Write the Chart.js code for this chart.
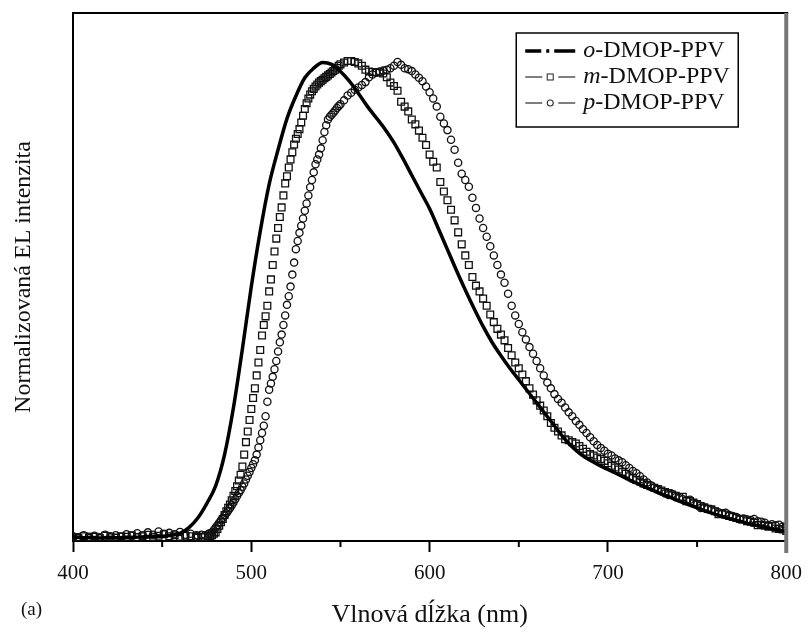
<!DOCTYPE html>
<html>
<head>
<meta charset="utf-8">
<title>EL spektrum DMOP-PPV</title>
<script src="https://cdn.jsdelivr.net/npm/chart.js@4.4.1/dist/chart.umd.min.js"></script>
<style>
  html, body { margin: 0; padding: 0; background: #fff; }
  #wrap { width: 811px; height: 635px; }
</style>
</head>
<body>
<div id="wrap"><canvas id="el-chart"></canvas></div>
<script>
// o-DMOP-PPV (solid line), read every 5 nm
const wavelengthsO = [400,405,410,415,420,425,430,435,440,445,450,455,460,465,470,475,480,485,490,495,
  500,505,510,515,520,525,530,535,540,545,550,555,560,565,570,575,580,585,590,595,
  600,605,610,615,620,625,630,635,640,645,650,655,660,665,670,675,680,685,690,695,
  700,705,710,715,720,725,730,735,740,745,750,755,760,765,770,775,780,785,790,795,800];
const intensityO = [0.008,0.007,0.008,0.006,0.008,0.007,0.008,0.008,0.009,0.010,0.010,0.012,0.016,0.028,0.048,0.078,0.115,0.180,0.278,0.400,
  0.530,0.645,0.743,0.815,0.880,0.927,0.965,0.985,0.997,0.993,0.978,0.958,0.933,0.906,0.882,0.858,0.830,0.797,0.762,0.727,
  0.692,0.650,0.607,0.564,0.523,0.484,0.447,0.414,0.386,0.360,0.336,0.312,0.288,0.264,0.240,0.216,0.196,0.180,0.168,0.158,
  0.149,0.140,0.131,0.122,0.114,0.106,0.098,0.091,0.083,0.076,0.069,0.062,0.056,0.050,0.045,0.040,0.035,0.031,0.027,0.023,0.019];

// m- and p-DMOP-PPV (markers), shared wavelengths
const wavelengthsMP = [400,403,406,409,412,415,418,421,424,427,430,433,436,439,442,445,448,451,454,457,460,463,466,469,
  470,472,474,476,
  477,478,479,480,481,482,483,484,485,486,487,488,489,490,491,492,493,494,495,496,497,498,499,500,
  501,502,503,504,505,506,507,508,509,510,511,512,513,514,515,516,517,518,519,520,521,522,523,524,525,
  526,527,528,529,530,531,532,533,534,535,536,537,538,539,540,541,542,543,544,545,546,547,548,549,550,
  552,554,556,558,560,562,564,566,568,570,572,574,576,578,580,582,584,586,588,590,592,594,596,598,600,
  602,604,606,608,610,612,614,616,618,620,622,624,626,628,630,632,634,636,638,640,642,644,646,648,650,
  652,654,656,658,660,662,664,666,668,670,672,674,676,678,680,682,684,686,688,690,692,694,696,698,700,
  702,704,706,708,710,712,714,716,718,720,722,724,726,728,730,732,734,736,738,740,742,744,746,748,750,
  752,754,756,758,760,762,764,766,768,770,772,774,776,778,780,782,784,786,788,790,792,794,796,798,800];
const intensityM = [0.008,0.006,0.010,0.007,0.009,0.006,0.011,0.008,0.007,0.010,0.009,0.012,0.008,0.010,0.013,0.009,0.011,0.014,0.010,0.012,0.009,0.011,0.010,0.008,
  0.007,0.009,0.008,0.010,
  0.010,0.012,0.015,0.018,0.025,0.032,0.039,0.046,0.054,0.062,0.069,0.076,0.085,0.094,0.104,0.114,0.126,0.138,0.155,0.180,0.206,0.228,0.252,0.275,
  0.298,0.318,0.345,0.372,0.398,0.428,0.450,0.468,0.490,0.520,0.545,0.575,0.603,0.630,0.652,0.675,0.695,0.720,0.745,0.760,0.778,0.795,0.810,0.826,0.838,
  0.848,0.858,0.872,0.886,0.900,0.912,0.922,0.930,0.937,0.942,0.947,0.951,0.955,0.958,0.961,0.964,0.967,0.970,0.973,0.976,0.979,0.982,0.986,0.990,0.993,
  0.997,1.000,1.000,0.998,0.995,0.990,0.982,0.978,0.977,0.976,0.976,0.974,0.966,0.955,0.948,0.938,0.915,0.905,0.895,0.878,0.868,0.855,0.840,0.825,0.805,
  0.790,0.778,0.748,0.728,0.710,0.690,0.668,0.643,0.618,0.595,0.575,0.550,0.532,0.520,0.505,0.490,0.472,0.456,0.442,0.430,0.418,0.402,0.387,0.372,0.360,
  0.347,0.333,0.318,0.305,0.293,0.282,0.272,0.260,0.246,0.236,0.228,0.220,0.212,0.210,0.206,0.203,0.198,0.192,0.186,0.181,0.178,0.174,0.171,0.167,0.162,
  0.157,0.153,0.149,0.144,0.140,0.135,0.131,0.127,0.124,0.120,0.117,0.114,0.111,0.108,0.105,0.102,0.100,0.097,0.094,0.091,0.092,0.083,0.083,0.080,0.077,
  0.073,0.070,0.067,0.066,0.062,0.056,0.057,0.055,0.052,0.050,0.048,0.046,0.046,0.041,0.040,0.038,0.033,0.034,0.032,0.030,0.031,0.026,0.025,0.024,0.021];
const intensityP = [0.010,0.008,0.012,0.009,0.011,0.008,0.013,0.010,0.012,0.009,0.014,0.011,0.016,0.012,0.018,0.013,0.020,0.015,0.017,0.014,0.019,0.013,0.015,0.012,
  0.011,0.013,0.012,0.015,
  0.016,0.018,0.023,0.028,0.033,0.038,0.043,0.048,0.053,0.058,0.063,0.068,0.074,0.080,0.087,0.094,0.100,0.106,0.113,0.120,0.128,0.136,0.144,0.152,
  0.160,0.168,0.180,0.195,0.210,0.225,0.240,0.260,0.290,0.315,0.328,0.342,0.358,0.375,0.395,0.414,0.430,0.450,0.470,0.492,0.510,0.530,0.555,0.580,0.608,
  0.625,0.642,0.657,0.672,0.688,0.703,0.720,0.737,0.752,0.768,0.785,0.795,0.805,0.818,0.835,0.852,0.866,0.878,0.884,0.888,0.892,0.897,0.902,0.906,0.910,
  0.918,0.928,0.934,0.940,0.945,0.950,0.956,0.966,0.972,0.976,0.978,0.980,0.982,0.985,0.990,0.998,0.992,0.985,0.983,0.979,0.972,0.965,0.958,0.947,0.935,
  0.922,0.905,0.884,0.870,0.856,0.836,0.815,0.788,0.765,0.752,0.738,0.715,0.694,0.672,0.652,0.634,0.614,0.595,0.575,0.555,0.538,0.515,0.490,0.470,0.452,
  0.435,0.420,0.404,0.390,0.375,0.360,0.345,0.330,0.318,0.306,0.296,0.288,0.278,0.268,0.260,0.250,0.242,0.233,0.225,0.216,0.208,0.200,0.194,0.188,0.182,
  0.178,0.172,0.168,0.164,0.158,0.152,0.146,0.141,0.135,0.128,0.122,0.116,0.111,0.107,0.103,0.099,0.096,0.098,0.091,0.089,0.087,0.085,0.086,0.079,0.076,
  0.069,0.070,0.067,0.065,0.062,0.060,0.058,0.059,0.054,0.052,0.050,0.045,0.047,0.045,0.044,0.046,0.041,0.040,0.038,0.033,0.035,0.033,0.034,0.030,0.029];

const seriesLabels = ['o-DMOP-PPV', 'm-DMOP-PPV', 'p-DMOP-PPV'];
const xTicks = [400, 500, 600, 700, 800];
const xMinorTicks = [450, 550, 650, 750];

const serif = '"Liberation Serif", "Times New Roman", serif';

function toPoints(xs, ys) {
    return xs.map((x, i) => ({x: x, y: ys[i]}));
}

// Frame, minor ticks and the panel label
const frameExtras = {
    id: 'frameExtras',
    afterDraw(chart) {
        const {ctx, chartArea: a, scales: {x}} = chart;
        ctx.save();
        ctx.strokeStyle = '#000';
        ctx.lineWidth = 2;
        ctx.beginPath();
        ctx.moveTo(a.left, a.top);
        ctx.lineTo(a.right + 2, a.top);
        ctx.stroke();
        ctx.strokeStyle = '#777';
        ctx.lineWidth = 4;
        ctx.beginPath();
        ctx.moveTo(a.right, a.top);
        ctx.lineTo(a.right, a.bottom + 12);
        ctx.stroke();
        ctx.strokeStyle = '#000';
        ctx.lineWidth = 2;
        for (const v of xMinorTicks) {
            const px = x.getPixelForValue(v);
            ctx.beginPath();
            ctx.moveTo(px, a.bottom);
            ctx.lineTo(px, a.bottom + 6);
            ctx.stroke();
        }
        ctx.fillStyle = '#111';
        ctx.font = '19px ' + serif;
        ctx.textBaseline = 'middle';
        ctx.textAlign = 'left';
        ctx.fillText('(a)', 21, 610);
        ctx.restore();
    }
};

// Boxed legend: line/marker sample + italic prefix
const boxLegend = {
    id: 'boxLegend',
    afterDraw(chart) {
        const {ctx, chartArea: a} = chart;
        const left = a.right - 270, top = a.top + 20, w = 222, h = 94;
        ctx.save();
        ctx.strokeStyle = '#000';
        ctx.lineWidth = 1.5;
        ctx.strokeRect(left, top, w, h);
        chart.data.datasets.forEach((ds, i) => {
            const y = top + 18 + i * 26;
            const sx = left + 9;
            if (i === 0) {
                ctx.strokeStyle = '#000';
                ctx.lineWidth = 3.5;
                ctx.setLineDash([16, 5, 3, 5, 22]);
                ctx.beginPath();
                ctx.moveTo(sx, y);
                ctx.lineTo(sx + 50, y);
                ctx.stroke();
                ctx.setLineDash([]);
            } else {
                ctx.strokeStyle = '#555';
                ctx.lineWidth = 1.3;
                ctx.beginPath();
                ctx.moveTo(sx, y); ctx.lineTo(sx + 17, y);
                ctx.moveTo(sx + 33, y); ctx.lineTo(sx + 50, y);
                ctx.stroke();
                ctx.strokeStyle = '#333';
                ctx.lineWidth = 1.1;
                if (ds.pointStyle === 'rect') {
                    ctx.strokeRect(sx + 22, y - 3, 6, 6);
                } else {
                    ctx.beginPath();
                    ctx.arc(sx + 25, y, 3, 0, Math.PI * 2);
                    ctx.stroke();
                }
            }
            const prefix = ds.label.split('-')[0];
            const rest = ds.label.slice(prefix.length);
            const tx = left + 67;
            ctx.fillStyle = '#111';
            ctx.textBaseline = 'middle';
            ctx.font = 'italic 24px ' + serif;
            ctx.fillText(prefix, tx, y);
            const pw = ctx.measureText(prefix).width;
            ctx.font = '24px ' + serif;
            ctx.fillText(rest, tx + pw, y);
        });
        ctx.restore();
    }
};

new Chart(document.getElementById('el-chart').getContext('2d'), {
    type: 'scatter',
    data: {
        datasets: [{
            label: seriesLabels[0],
            data: toPoints(wavelengthsO, intensityO),
            showLine: true,
            borderColor: '#000',
            borderWidth: 3.5,
            pointRadius: 0,
            cubicInterpolationMode: 'monotone'
        },
        {
            label: seriesLabels[1],
            data: toPoints(wavelengthsMP, intensityM),
            showLine: false,
            pointStyle: 'rect',
            pointRadius: 4.8,
            pointBorderWidth: 1.3,
            pointBorderColor: '#111',
            pointBackgroundColor: 'rgba(255,255,255,0)'
        },
        {
            label: seriesLabels[2],
            data: toPoints(wavelengthsMP, intensityP),
            showLine: false,
            pointStyle: 'circle',
            pointRadius: 3.6,
            pointBorderWidth: 1.3,
            pointBorderColor: '#111',
            pointBackgroundColor: 'rgba(255,255,255,0)'
        }]
    },
    options: {
        responsive: true,
        maintainAspectRatio: false,
        animation: false,
        events: [],
        layout: {
            padding: {top: 13, right: 20, bottom: 0, left: 0}
        },
        plugins: {
            legend: {display: false},
            tooltip: {enabled: false}
        },
        scales: {
            x: {
                type: 'linear',
                min: 400,
                max: 800,
                afterBuildTicks: s => { s.ticks = xTicks.map(v => ({value: v})); },
                afterFit: s => { s.height = 94; },
                border: {display: true, color: '#000', width: 2},
                grid: {
                    drawOnChartArea: false,
                    drawTicks: true,
                    tickLength: 11,
                    tickWidth: 2,
                    tickColor: '#000'
                },
                ticks: {
                    color: '#111',
                    padding: 9,
                    maxRotation: 0,
                    autoSkip: false,
                    font: {family: serif, size: 21}
                },
                title: {
                    display: true,
                    text: 'Vlnová dĺžka (nm)',
                    color: '#111',
                    padding: {top: 0, bottom: 4},
                    font: {family: serif, size: 26}
                }
            },
            y: {
                type: 'linear',
                min: 0,
                max: 1.1,
                afterFit: s => { s.width = 73; },
                border: {display: true, color: '#000', width: 2},
                grid: {display: false},
                ticks: {display: false},
                title: {
                    display: true,
                    text: 'Normalizovaná EL intenzita',
                    color: '#111',
                    padding: {top: 9, bottom: 0},
                    font: {family: serif, size: 24}
                }
            }
        }
    },
    plugins: [frameExtras, boxLegend]
});
</script>
</body>
</html>
